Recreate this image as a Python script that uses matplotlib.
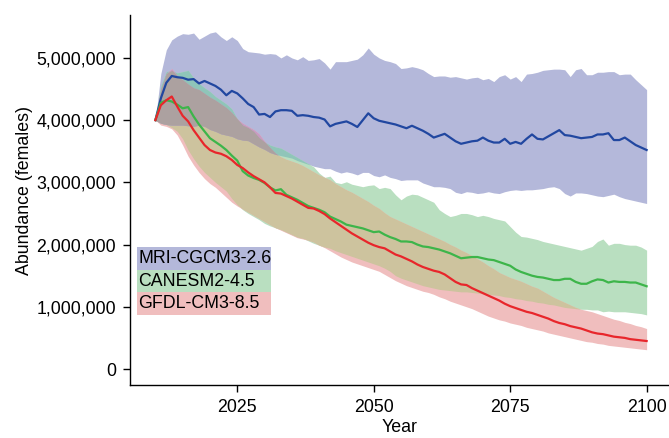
import matplotlib
matplotlib.use("Agg")
import matplotlib.pyplot as plt
from matplotlib.patches import Rectangle
from matplotlib.ticker import FuncFormatter
import numpy as np

plt.rcParams['font.family'] = ['Liberation Sans', 'DejaVu Sans']

years = list(range(2010, 2101))

# values in millions of females
mri_mean = [4.00, 4.35, 4.60, 4.71, 4.69, 4.68, 4.65, 4.66, 4.59, 4.63, 4.59, 4.55, 4.49, 4.40, 4.47, 4.43,
            4.35, 4.26, 4.21, 4.09, 4.10, 4.05, 4.14, 4.16, 4.16, 4.15, 4.07, 4.08, 4.07, 4.05, 4.04,
            4.01, 3.90, 3.94, 3.96, 3.98, 3.94, 3.89, 4.00, 4.11, 4.03, 3.99, 3.97, 3.95, 3.93, 3.90,
            3.87, 3.91, 3.87, 3.83, 3.78, 3.72, 3.75, 3.78, 3.72, 3.66, 3.62, 3.64, 3.66, 3.67, 3.72,
            3.67, 3.64, 3.64, 3.70, 3.62, 3.65, 3.62, 3.70, 3.77, 3.70, 3.69, 3.74, 3.79, 3.84, 3.76,
            3.75, 3.73, 3.71, 3.72, 3.73, 3.77, 3.77, 3.79, 3.68, 3.68, 3.72, 3.66, 3.60, 3.56, 3.52]
mri_upper = [4.00, 4.75, 5.13, 5.29, 5.35, 5.39, 5.38, 5.40, 5.30, 5.35, 5.40, 5.42, 5.34, 5.28, 5.34, 5.28,
             5.15, 5.10, 5.09, 5.08, 5.06, 5.07, 5.06, 5.00, 5.05, 5.00, 4.97, 5.02, 4.96, 4.97, 4.99,
             4.92, 4.82, 4.94, 4.94, 4.94, 4.96, 4.98, 5.05, 5.16, 5.06, 5.00, 4.96, 4.94, 4.91, 4.83,
             4.84, 4.86, 4.84, 4.81, 4.75, 4.70, 4.71, 4.71, 4.69, 4.70, 4.68, 4.66, 4.68, 4.69, 4.65,
             4.67, 4.62, 4.70, 4.73, 4.66, 4.70, 4.62, 4.74, 4.75, 4.77, 4.80, 4.81, 4.82, 4.82, 4.81,
             4.70, 4.81, 4.83, 4.73, 4.73, 4.77, 4.77, 4.78, 4.78, 4.73, 4.74, 4.74, 4.65, 4.57, 4.49]
mri_lower = [4.00, 3.95, 3.93, 3.92, 3.92, 3.92, 3.91, 3.90, 3.92, 3.90, 3.85, 3.82, 3.78, 3.76, 3.74, 3.70,
             3.68, 3.67, 3.62, 3.57, 3.53, 3.48, 3.45, 3.43, 3.41, 3.39, 3.35, 3.32, 3.29, 3.26, 3.24,
             3.22, 3.22, 3.18, 3.15, 3.17, 3.15, 3.12, 3.16, 3.16, 3.11, 3.09, 3.12, 3.08, 3.06, 3.03,
             3.04, 3.04, 3.04, 2.99, 2.96, 2.93, 2.93, 2.92, 2.90, 2.84, 2.82, 2.85, 2.84, 2.82, 2.83,
             2.85, 2.83, 2.82, 2.85, 2.87, 2.88, 2.87, 2.88, 2.88, 2.89, 2.90, 2.92, 2.93, 2.90, 2.82,
             2.78, 2.83, 2.83, 2.82, 2.80, 2.78, 2.77, 2.79, 2.81, 2.77, 2.74, 2.72, 2.70, 2.68, 2.66]

can_mean = [4.00, 4.28, 4.32, 4.30, 4.25, 4.19, 4.21, 4.06, 3.93, 3.82, 3.71, 3.65, 3.59, 3.52, 3.43, 3.35,
            3.18, 3.11, 3.07, 3.04, 2.99, 2.92, 2.87, 2.89, 2.80, 2.76, 2.72, 2.67, 2.62, 2.59, 2.56,
            2.52, 2.45, 2.41, 2.37, 2.32, 2.30, 2.28, 2.26, 2.23, 2.20, 2.21, 2.16, 2.12, 2.09, 2.05,
            2.05, 2.04, 2.00, 1.97, 1.96, 1.94, 1.92, 1.89, 1.86, 1.82, 1.78, 1.79, 1.80, 1.80, 1.78,
            1.76, 1.75, 1.72, 1.69, 1.66, 1.60, 1.56, 1.53, 1.50, 1.48, 1.47, 1.45, 1.43, 1.43, 1.45,
            1.45, 1.40, 1.37, 1.37, 1.41, 1.44, 1.43, 1.39, 1.41, 1.40, 1.40, 1.39, 1.39, 1.36, 1.33]
can_upper = [4.00, 4.55, 4.78, 4.80, 4.76, 4.78, 4.80, 4.68, 4.59, 4.52, 4.46, 4.38, 4.32, 4.26, 4.18, 4.02,
             3.92, 3.88, 3.82, 3.72, 3.65, 3.60, 3.57, 3.55, 3.50, 3.45, 3.40, 3.35, 3.30, 3.25, 3.15,
             3.08, 3.10, 3.00, 2.98, 3.01, 2.97, 2.95, 2.93, 2.95, 2.96, 2.90, 2.92, 2.90, 2.80, 2.72,
             2.78, 2.81, 2.80, 2.76, 2.72, 2.68, 2.56, 2.50, 2.45, 2.47, 2.50, 2.50, 2.48, 2.45, 2.47,
             2.45, 2.42, 2.40, 2.38, 2.29, 2.20, 2.13, 2.12, 2.10, 2.08, 2.05, 2.03, 2.01, 1.99, 1.97,
             1.95, 1.93, 1.91, 1.94, 1.97, 2.05, 2.09, 1.99, 2.02, 2.02, 2.00, 1.99, 1.99, 1.96, 1.91]
can_lower = [4.00, 3.95, 3.93, 3.88, 3.82, 3.70, 3.52, 3.38, 3.26, 3.16, 3.08, 3.00, 2.93, 2.86, 2.74, 2.64,
             2.56, 2.50, 2.45, 2.40, 2.34, 2.30, 2.27, 2.24, 2.20, 2.16, 2.12, 2.10, 2.06, 2.02, 1.99,
             1.96, 1.94, 1.90, 1.87, 1.84, 1.81, 1.78, 1.75, 1.72, 1.69, 1.66, 1.62, 1.57, 1.50, 1.46,
             1.43, 1.40, 1.37, 1.34, 1.32, 1.30, 1.28, 1.27, 1.26, 1.25, 1.24, 1.24, 1.23, 1.22, 1.21,
             1.20, 1.19, 1.18, 1.16, 1.15, 1.13, 1.12, 1.10, 1.09, 1.07, 1.06, 1.04, 1.03, 1.01, 0.99,
             0.98, 0.97, 0.96, 0.96, 0.95, 0.95, 0.92, 0.93, 0.92, 0.92, 0.92, 0.91, 0.90, 0.89, 0.87]

gfdl_mean = [4.00, 4.24, 4.32, 4.38, 4.22, 4.07, 3.98, 3.84, 3.72, 3.60, 3.52, 3.48, 3.46, 3.42, 3.36, 3.28,
             3.23, 3.16, 3.10, 3.05, 3.00, 2.92, 2.83, 2.82, 2.78, 2.74, 2.69, 2.64, 2.59, 2.58, 2.54,
             2.49, 2.42, 2.36, 2.30, 2.24, 2.18, 2.13, 2.08, 2.03, 1.99, 1.96, 1.94, 1.89, 1.84, 1.81,
             1.77, 1.73, 1.68, 1.64, 1.61, 1.58, 1.56, 1.52, 1.46, 1.40, 1.36, 1.35, 1.30, 1.26, 1.22,
             1.18, 1.14, 1.10, 1.05, 1.01, 0.98, 0.95, 0.92, 0.90, 0.87, 0.84, 0.81, 0.77, 0.74, 0.72,
             0.69, 0.67, 0.65, 0.62, 0.59, 0.57, 0.56, 0.54, 0.52, 0.51, 0.50, 0.48, 0.47, 0.46, 0.45]
gfdl_upper = [4.00, 4.50, 4.75, 4.83, 4.72, 4.65, 4.58, 4.52, 4.49, 4.43, 4.37, 4.32, 4.26, 4.20, 4.12, 4.02,
              3.95, 3.90, 3.85, 3.78, 3.66, 3.56, 3.47, 3.41, 3.37, 3.34, 3.31, 3.27, 3.22, 3.17, 3.12,
              3.08, 3.04, 2.98, 2.93, 2.88, 2.84, 2.79, 2.74, 2.69, 2.63, 2.58, 2.51, 2.45, 2.41, 2.37,
              2.33, 2.29, 2.25, 2.21, 2.17, 2.13, 2.09, 2.05, 2.00, 1.96, 1.91, 1.87, 1.82, 1.77, 1.72,
              1.66, 1.61, 1.55, 1.51, 1.47, 1.44, 1.41, 1.37, 1.33, 1.30, 1.25, 1.20, 1.15, 1.11, 1.07,
              1.03, 0.99, 0.96, 0.94, 0.92, 0.89, 0.86, 0.83, 0.80, 0.78, 0.75, 0.73, 0.70, 0.68, 0.65]
gfdl_lower = [4.00, 3.92, 3.90, 3.86, 3.76, 3.60, 3.42, 3.28, 3.16, 3.06, 2.98, 2.92, 2.84, 2.76, 2.68, 2.62,
              2.57, 2.52, 2.47, 2.42, 2.37, 2.32, 2.27, 2.23, 2.19, 2.15, 2.11, 2.09, 2.07, 2.04, 1.99,
              1.95, 1.90, 1.85, 1.80, 1.76, 1.72, 1.69, 1.66, 1.63, 1.60, 1.57, 1.52, 1.47, 1.42, 1.38,
              1.34, 1.31, 1.28, 1.25, 1.23, 1.20, 1.16, 1.13, 1.09, 1.06, 1.03, 1.00, 0.97, 0.93, 0.89,
              0.85, 0.82, 0.79, 0.77, 0.74, 0.72, 0.70, 0.67, 0.65, 0.63, 0.61, 0.58, 0.56, 0.54, 0.52,
              0.50, 0.48, 0.46, 0.44, 0.43, 0.41, 0.40, 0.38, 0.37, 0.36, 0.35, 0.34, 0.33, 0.32, 0.31]

labels = ["MRI-CGCM3-2.6", "CANESM2-4.5", "GFDL-CM3-8.5"]
line_colors = ["#2147a0", "#3db54a", "#e8262b"]
fill_colors = ["#b4b8da", "#b9dfc0", "#f0bebe"]
# colours where the bands overlap
tan_color = "#cdc39e"     # CANESM2 & GFDL
teal_color = "#8fc5b9"    # MRI & CANESM2
mauve_color = "#c89bc2"   # MRI & GFDL
brown_color = "#aca1a0"   # all three

yticks = [0, 1000000, 2000000, 3000000, 4000000, 5000000]
xticks = [2025, 2050, 2075, 2100]

fig = plt.figure(figsize=(6.69, 4.38), dpi=100)
ax = fig.add_axes([130 / 669, 1 - 385 / 438, 539 / 669, 370 / 438])

yr = np.array(years)
M = 1e6
lo = [np.array(mri_lower) * M, np.array(can_lower) * M, np.array(gfdl_lower) * M]
hi = [np.array(mri_upper) * M, np.array(can_upper) * M, np.array(gfdl_upper) * M]
means = [np.array(mri_mean) * M, np.array(can_mean) * M, np.array(gfdl_mean) * M]


def region(idx, color):
    l = np.max([lo[i] for i in idx], axis=0)
    h = np.min([hi[i] for i in idx], axis=0)
    ax.fill_between(yr, l, h, where=h >= l, interpolate=True, color=color, lw=0)


for i, fc in enumerate(fill_colors):
    region([i], fc)
region([1, 2], tan_color)
region([0, 1], teal_color)
region([0, 2], mauve_color)
region([0, 1, 2], brown_color)

for m, lc in zip(means, line_colors):
    ax.plot(yr, m, color=lc, lw=1.6)

ax.set_xlim(2005.35, 2104.1)
ax.set_ylim(-257000, 5690000)
ax.set_xticks(xticks)
ax.set_yticks(yticks)
ax.yaxis.set_major_formatter(FuncFormatter(lambda v, p: f"{int(round(v)):,}"))
ax.tick_params(axis='both', direction='out', length=5, width=1, labelsize=12.8, color='black')
ax.tick_params(axis='y', pad=5)
ax.tick_params(axis='x', pad=5)
for s in ['top', 'right']:
    ax.spines[s].set_visible(False)
for s in ['left', 'bottom']:
    ax.spines[s].set_linewidth(1.0)

ax.set_xlabel("Year", fontsize=12.8)
ax.set_ylabel("Abundance (females)", fontsize=12.8)
ax.yaxis.set_label_coords(-0.18, 0.527)
ax.xaxis.set_label_coords(0.5, -0.093)

# legend boxes
row_tops = [0.372, 0.311, 0.2505]
row_h = 0.0605
for lab, fc, top in zip(labels, fill_colors, row_tops):
    ax.add_patch(Rectangle((0.0135, top - row_h), 0.249, row_h, transform=ax.transAxes,
                           facecolor=fc, lw=0, zorder=3))
    ax.text(0.0155, top - row_h / 2, lab, transform=ax.transAxes, fontsize=12.8,
            va='center', ha='left', color='black', zorder=4)

fig.savefig("out.png", dpi=100)
